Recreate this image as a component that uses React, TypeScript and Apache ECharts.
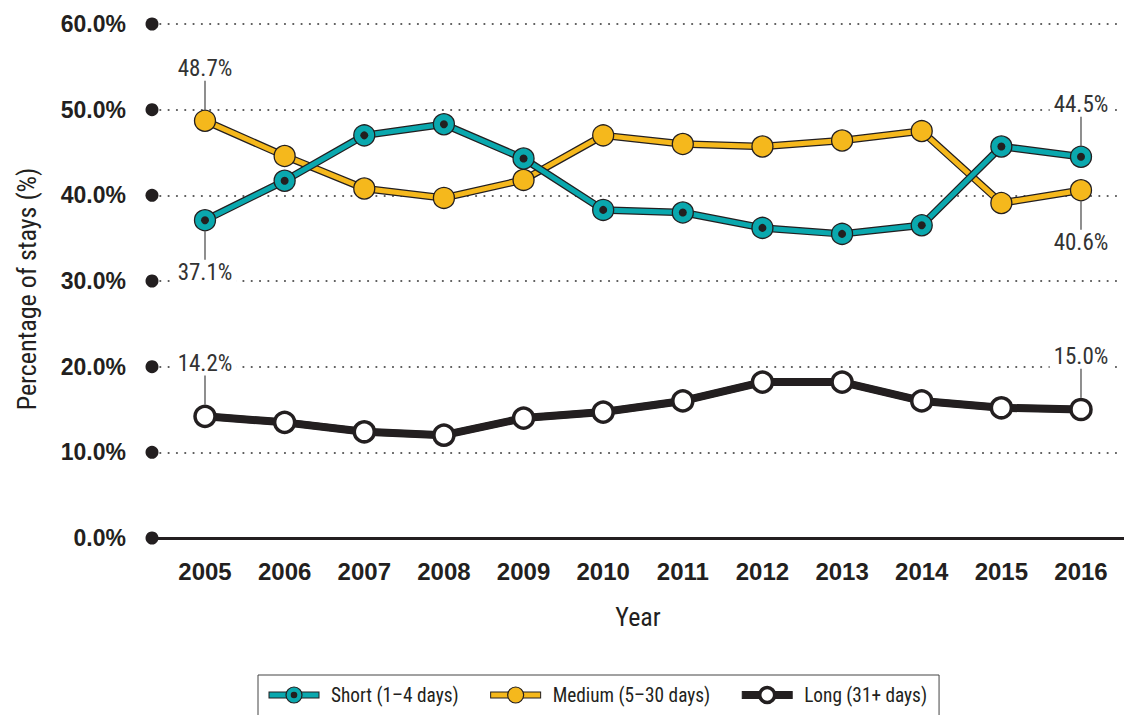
import React, { useEffect, useRef } from "react";
import * as echarts from "echarts";

const years = [2005, 2006, 2007, 2008, 2009, 2010, 2011, 2012, 2013, 2014, 2015, 2016];
const shortStays = [37.1, 41.7, 47.0, 48.3, 44.3, 38.3, 38.0, 36.2, 35.5, 36.5, 45.7, 44.5];
const mediumStays = [48.7, 44.6, 40.8, 39.7, 41.8, 47.0, 46.0, 45.7, 46.4, 47.5, 39.1, 40.6];
const longStays = [14.2, 13.5, 12.4, 12.0, 14.0, 14.7, 16.0, 18.2, 18.2, 16.0, 15.2, 15.0];
const yTicks = [0, 10, 20, 30, 40, 50, 60];
const seriesNames = ["Short (1–4 days)", "Medium (5–30 days)", "Long (31+ days)"];
// which points carry a value label, and on which side
const shortLabelPos: Record<number, string> = { 0: "bottom", 11: "top" };
const mediumLabelPos: Record<number, string> = { 0: "top", 11: "bottom" };
const longLabelPos: Record<number, string> = { 0: "top", 11: "top" };

const TEAL = "#0aa8ae";
const GOLD = "#f5b81c";
const DARK = "#231f20";
const NARROW = "'Roboto Condensed', 'DejaVu Sans Condensed', 'Liberation Sans', sans-serif";
const ARIAL = "'Liberation Sans', Arial, sans-serif";
const X_MIN = 2004.3345;
const X_MAX = 2016.54;

function legendIcon(fill: string, lineColor: string, dot: boolean) {
  const white = fill === "#ffffff";
  const svg = `<svg xmlns="http://www.w3.org/2000/svg" width="58" height="20" viewBox="0 0 58 20">` +
    `<rect x="1" y="${white ? 6.5 : 7}" width="50" height="${white ? 7 : 6}" fill="${lineColor}" stroke="${DARK}" stroke-width="1"/>` +
    `<circle cx="26" cy="10" r="${white ? 7.5 : 8}" fill="${fill}" stroke="${DARK}" stroke-width="${white ? 3.5 : 1.2}"/>` +
    (dot ? `<circle cx="26" cy="10" r="3.3" fill="${DARK}"/>` : "") +
    `</svg>`;
  return "image://data:image/svg+xml;charset=utf-8," + encodeURIComponent(svg);
}

function buildData(vals: number[], labels: Record<number, string>) {
  return vals.map((v, i) => {
    const pos = labels[i];
    const item: any = { value: [years[i], v] };
    if (pos) {
      const txt = v.toFixed(1) + "%";
      item.label = {
        show: true,
        position: pos,
        distance: 0,
        formatter: pos === "top" ? `{v|${txt}}\n{l| }` : `{l| }\n{v|${txt}}`,
        rich: {
          v: {
            fontFamily: NARROW,
            fontSize: 23,
            color: "#333",
            backgroundColor: "#fff",
            padding: [1, 4, 1, 4],
            lineHeight: 24,
            align: "center",
          },
          l: {
            width: 1.2,
            height: 29,
            lineHeight: 29,
            backgroundColor: "#444",
            fontSize: 1,
            align: "center",
          },
        },
      };
    }
    return item;
  });
}

function plainData(vals: number[]) {
  return vals.map((v, i) => [years[i], v]);
}

export default function App() {
  const ref = useRef<HTMLDivElement>(null);
  useEffect(() => {
    if (!ref.current) return;
    const chart = echarts.init(ref.current, null, { renderer: "svg" });
    const option: any = {
      animation: false,
      grid: { left: 152, right: 0, top: 24, bottom: 177, outerBoundsMode: "none", containLabel: false },
      xAxis: {
        type: "value",
        min: X_MIN,
        max: X_MAX,
        name: "Year",
        nameLocation: "middle",
        nameGap: 66,
        nameTextStyle: { fontFamily: NARROW, fontSize: 26, color: DARK },
        axisLine: { show: true, lineStyle: { color: DARK, width: 3 } },
        axisTick: { show: false },
        splitLine: { show: false },
        axisLabel: {
          customValues: years,
          formatter: (v: number) => String(Math.round(v)),
          fontFamily: ARIAL,
          fontWeight: "bold",
          fontSize: 24,
          color: DARK,
          margin: 21,
        },
      },
      yAxis: {
        type: "value",
        min: 0,
        max: 60,
        interval: 10,
        name: "Percentage of stays (%)",
        nameLocation: "middle",
        nameGap: 112,
        nameTextStyle: { fontFamily: NARROW, fontSize: 26, color: DARK, padding: [0, 16, 0, 0] },
        axisLine: { show: false },
        axisTick: { show: false },
        axisLabel: {
          formatter: (v: number) => v.toFixed(1) + "%",
          fontFamily: ARIAL,
          fontWeight: "bold",
          fontSize: 23,
          color: DARK,
          margin: 26,
        },
        splitLine: {
          show: true,
          lineStyle: { color: "#555", width: 2.2, type: [0.01, 8.3], cap: "round" },
        },
      },
      legend: {
        left: 258,
        top: 675,
        orient: "horizontal",
        borderColor: "#444",
        borderWidth: 1,
        borderRadius: 0,
        padding: [10, 12, 20, 10],
        itemWidth: 58,
        itemHeight: 20,
        itemGap: 31,
        textStyle: { fontFamily: NARROW, fontSize: 19.3, color: DARK },
        data: [
          { name: seriesNames[0], icon: legendIcon(TEAL, TEAL, true) },
          { name: seriesNames[1], icon: legendIcon(GOLD, GOLD, false) },
          { name: seriesNames[2], icon: legendIcon("#ffffff", DARK, false) },
        ],
      },
      series: [
        {
          type: "scatter",
          data: yTicks.map((t) => [X_MIN, t]),
          symbol: "circle",
          symbolSize: 13,
          itemStyle: { color: DARK, opacity: 1 },
          clip: false,
          silent: true,
          z: 5,
        },
        {
          name: "long-outline",
          type: "line",
          data: plainData(longStays),
          showSymbol: false,
          lineStyle: { color: DARK, width: 8 },
          silent: true,
          z: 2,
        },
        {
          name: seriesNames[2],
          type: "line",
          data: buildData(longStays, longLabelPos),
          symbol: "circle",
          symbolSize: 20,
          itemStyle: { color: "#ffffff", borderColor: DARK, borderWidth: 3.5 },
          lineStyle: { color: DARK, width: 7 },
          z: 3,
        },
        {
          name: "medium-outline",
          type: "line",
          data: plainData(mediumStays),
          showSymbol: false,
          lineStyle: { color: DARK, width: 7.5 },
          silent: true,
          z: 2,
        },
        {
          name: seriesNames[1],
          type: "line",
          data: buildData(mediumStays, mediumLabelPos),
          symbol: "circle",
          symbolSize: 21,
          itemStyle: { color: GOLD, borderColor: DARK, borderWidth: 1.3 },
          lineStyle: { color: GOLD, width: 5 },
          z: 3,
        },
        {
          name: "short-outline",
          type: "line",
          data: plainData(shortStays),
          showSymbol: false,
          lineStyle: { color: DARK, width: 7.5 },
          silent: true,
          z: 4,
        },
        {
          name: seriesNames[0],
          type: "line",
          data: buildData(shortStays, shortLabelPos),
          symbol: "circle",
          symbolSize: 21,
          itemStyle: { color: TEAL, borderColor: DARK, borderWidth: 1.3 },
          lineStyle: { color: TEAL, width: 5 },
          z: 5,
        },
        {
          name: "short-dots",
          type: "scatter",
          data: plainData(shortStays),
          symbol: "circle",
          symbolSize: 8,
          itemStyle: { color: DARK, opacity: 1 },
          silent: true,
          z: 6,
        },
      ],
    };
    chart.setOption(option);
    return () => chart.dispose();
  }, []);
  return (
    <div
      ref={ref}
      style={{ position: "fixed", left: 0, top: 0, width: 1124, height: 715, background: "#fff" }}
    />
  );
}
